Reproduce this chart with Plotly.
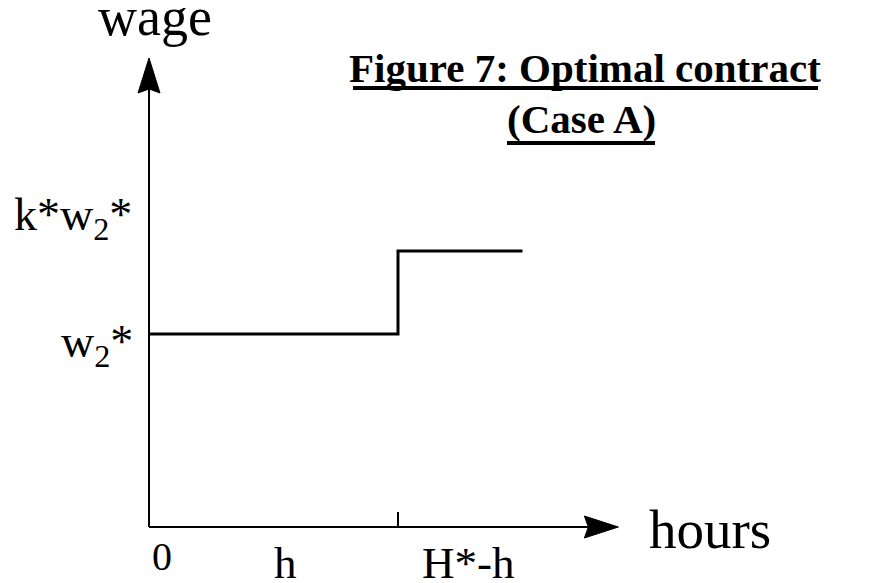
import plotly.graph_objects as go

# ---- data (abstract units) ----
hours = [0, 2, 3]            # 0, end of h, end of contract
wage = [1.0, 1.43, 1.43]     # w2* then k*w2*
step_x = 2                   # position of the tick (h)
x_axis_end = 3.77
y_axis_end = 2.43

x_labels = ["0", "h", "H*-h"]
y_labels = ["w<sub>2</sub>*", "k*w<sub>2</sub>*"]

# page has an 8px body margin; figure is sized to fill the rest of the window
OFF = 8
W, H = 888 - OFF, 583 - OFF
FONT = "Liberation Serif"

fig = go.Figure()

fig.add_trace(go.Scatter(
    x=hours, y=wage, mode="lines", line=dict(color="black", width=3, shape="hv"),
    hoverinfo="skip", showlegend=False))


def P(px, py):
    """window pixel -> paper coords"""
    return (px - OFF) / W, 1 - (py - OFF) / H


shapes = [
    # axes
    dict(type="line", xref="x", yref="y", x0=0, y0=0, x1=x_axis_end - 0.07, y1=0,
         line=dict(color="black", width=2)),
    dict(type="line", xref="x", yref="y", x0=0, y0=0, x1=0, y1=y_axis_end - 0.05,
         line=dict(color="black", width=2)),
    # arrow heads
    dict(type="path", xref="x", yref="y", xsizemode="pixel", ysizemode="pixel",
         xanchor=x_axis_end, yanchor=0, path="M -34,11 L 0,0 L -34,-11 L -30,0 Z",
         fillcolor="black", line=dict(color="black", width=1)),
    dict(type="path", xref="x", yref="y", xsizemode="pixel", ysizemode="pixel",
         xanchor=0, yanchor=y_axis_end, path="M -11,-35 L 0,0 L 11,-35 L 0,-31 Z",
         fillcolor="black", line=dict(color="black", width=1)),
    # tick at h
    dict(type="line", xref="x", yref="y", ysizemode="pixel", yanchor=0,
         x0=step_x, x1=step_x, y0=0, y1=15, line=dict(color="black", width=2)),
]

# title underlines
for (xa, xb, yy) in [(353, 818, 88), (507, 655, 143)]:
    (x0, y0), (x1, _) = P(xa, yy), P(xb, yy)
    shapes.append(dict(type="line", xref="paper", yref="paper", x0=x0, x1=x1, y0=y0, y1=y0,
                       line=dict(color="black", width=4)))


def ann(text, px, py, size, xanchor="center"):
    x, y = P(px, py)
    return dict(text=text, x=x, y=y, xref="paper", yref="paper", showarrow=False,
                xanchor=xanchor, yanchor="middle",
                font=dict(family=FONT, size=size, color="black"))


annotations = [
    ann("wage", 155, 17, 54),
    ann("<b>Figure 7: Optimal contract</b>", 585, 68, 41),
    ann("<b>(Case A)</b>", 581, 119, 41),
    ann(y_labels[1], 134, 218, 46, xanchor="right"),
    ann(y_labels[0], 135, 345, 46, xanchor="right"),
    ann(x_labels[0], 150, 556, 40, xanchor="left"),
    ann(x_labels[1], 285, 563, 45),
    ann(x_labels[2], 468, 563, 45),
    ann("hours", 647, 529, 55, xanchor="left"),
]

fig.update_layout(
    width=W, height=H, margin=dict(l=0, r=0, t=0, b=0),
    paper_bgcolor="white", plot_bgcolor="white",
    xaxis=dict(visible=False, range=[-(149 - OFF) / 124.5, (888 - 149) / 124.5], fixedrange=True),
    yaxis=dict(visible=False, range=[-(583 - 527) / 193, (527 - OFF) / 193], fixedrange=True),
    shapes=shapes, annotations=annotations, showlegend=False,
)

fig.write_html("out.html")
